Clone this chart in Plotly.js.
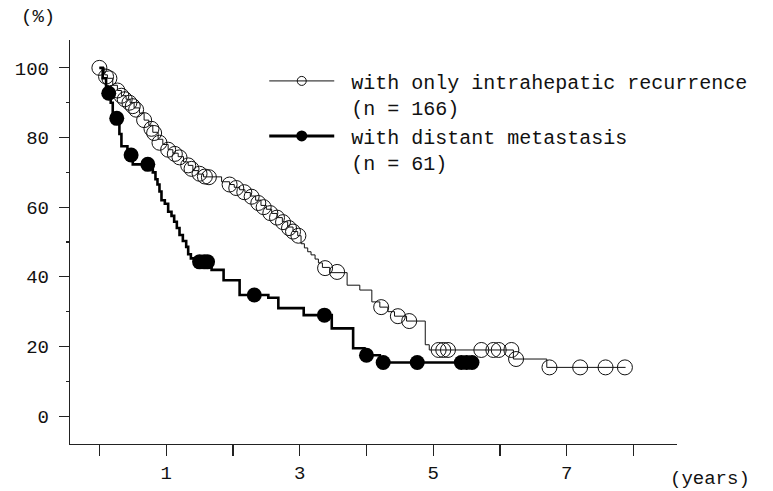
<!DOCTYPE html>
<html>
<head>
<meta charset="utf-8">
<script src="https://cdn.plot.ly/plotly-3.0.1.min.js"></script>
<style>html,body{margin:0;padding:0;background:#fff;}#chart{width:773px;height:491px;}</style>
</head>
<body>
<div id="chart"></div>
<script>
// Kaplan-Meier step curve: with only intrahepatic recurrence (n = 166)
const intraStepYears = [0, 0.08, 0.12, 0.2, 0.27, 0.33, 0.4, 0.46, 0.52, 0.6, 0.67, 0.74, 0.8, 0.88, 0.95, 1.03, 1.1, 1.18, 1.26, 1.33, 1.4, 1.48, 1.56, 1.83, 1.95, 2.02, 2.1, 2.18, 2.26, 2.34, 2.42, 2.5, 2.58, 2.66, 2.74, 2.82, 2.9, 2.97, 3.02, 3.07, 3.12, 3.17, 3.23, 3.28, 3.34, 3.45, 3.71, 3.9, 4.08, 4.2, 4.32, 4.42, 4.6, 4.88, 4.94, 6.2, 6.7, 7.88];
const intraStepSurv  = [100, 98, 97, 95, 93.5, 92, 91, 90, 88.5, 87, 85, 83.5, 81.5, 79.5, 78, 76.5, 75.5, 74.5, 73, 72, 70.5, 69.5, 68.7, 67.3, 66.5, 65.7, 65, 64.2, 63.2, 62, 60.5, 59.4, 58.2, 57, 55.8, 54.3, 53, 51.8, 49.5, 48.3, 47.2, 46.3, 45.1, 44, 42.7, 41.2, 37.6, 36.2, 32.8, 31.3, 30, 28.7, 27.3, 20.5, 19, 16.4, 14, 14];
// censored observations (open circles)
const intraCensYears = [0, 0.1, 0.15, 0.27, 0.33, 0.38, 0.45, 0.5, 0.55, 0.67, 0.78, 0.82, 0.9, 1.03, 1.13, 1.2, 1.33, 1.38, 1.5, 1.58, 1.64, 1.95, 2.05, 2.17, 2.28, 2.38, 2.46, 2.56, 2.66, 2.75, 2.84, 2.9, 2.98, 3.38, 3.56, 4.22, 4.47, 4.64, 5.08, 5.15, 5.22, 5.72, 5.9, 5.98, 6.17, 6.24, 6.74, 7.2, 7.58, 7.87];
const intraCensSurv  = [100, 97.5, 97, 93.5, 92, 91, 90, 89, 88, 85, 82.5, 81.3, 78.5, 76.5, 75.3, 74.3, 72, 71, 69.6, 68.8, 68.6, 66.5, 65.5, 64.3, 63, 61.2, 60, 58.3, 57, 55.7, 54, 53, 51.8, 42.5, 41.4, 31.3, 28.7, 27.3, 19, 19, 19, 19, 19, 19, 19, 16.4, 14, 14, 14, 14];

// Kaplan-Meier step curve: with distant metastasis (n = 61)
const distStepYears = [0, 0.05, 0.1, 0.17, 0.2, 0.3, 0.33, 0.42, 0.5, 0.8, 0.84, 0.87, 0.9, 0.93, 0.98, 1.03, 1.08, 1.12, 1.16, 1.2, 1.25, 1.3, 1.33, 1.37, 1.43, 1.68, 1.86, 2.1, 2.53, 2.68, 3.06, 3.48, 3.8, 3.97, 4.2, 5.6];
const distStepSurv  = [100, 97, 93, 90, 86, 81, 77.5, 76, 72.3, 70, 68, 66.5, 64.5, 62, 61, 58.7, 57.5, 55.8, 54, 52, 50.3, 48.6, 46.5, 45.3, 44.3, 42, 39, 34.8, 34, 31, 29, 25.2, 19.5, 17.5, 15.4, 15.4];
// censored observations (filled circles)
const distCensYears = [0.14, 0.26, 0.475, 0.725, 1.5, 1.57, 1.62, 2.32, 3.37, 4.0, 4.25, 4.76, 5.42, 5.5, 5.58];
const distCensSurv  = [92.7, 85.5, 75, 72.3, 44.3, 44.3, 44.3, 34.8, 29, 17.5, 15.4, 15.4, 15.4, 15.4, 15.4];

const seriesNames = ['\u00A0with only intrahepatic recurrence<br>\u00A0(n = 166)', '\u00A0with distant metastasis<br>\u00A0(n = 61)'];
const xTickVals = [0, 1, 2, 3, 4, 5, 6, 7, 8];
const xTickText = ['', '1', '', '3', '', '5', '', '7', ''];
const yTickVals = [0, 20, 40, 60, 80, 100];

const FONT = 'Liberation Mono, Courier New, monospace';

const traces = [
  {x: intraStepYears, y: intraStepSurv, mode: 'lines', line: {shape: 'hv', color: '#111', width: 1}, showlegend: false, hoverinfo: 'skip'},
  {x: intraCensYears, y: intraCensSurv, mode: 'markers', marker: {symbol: 'circle-open', size: 15, color: '#111', line: {width: 1}}, showlegend: false},
  {x: distStepYears, y: distStepSurv, mode: 'lines', line: {shape: 'hv', color: '#000', width: 2.6}, showlegend: false, hoverinfo: 'skip'},
  {x: distCensYears, y: distCensSurv, mode: 'markers', marker: {symbol: 'circle', size: 15, color: '#000'}, showlegend: false},
  // legend entries
  {x: [null], y: [null], name: seriesNames[0], mode: 'lines+markers', line: {color: '#111', width: 1}, marker: {symbol: 'circle-open', size: 9, color: '#111', line: {width: 1}}},
  {x: [null], y: [null], name: seriesNames[1], mode: 'lines+markers', line: {color: '#000', width: 3}, marker: {symbol: 'circle', size: 11, color: '#000'}}
];

const layout = {
  width: 773, height: 491,
  margin: {l: 70, r: 96, t: 40, b: 47},
  paper_bgcolor: '#fff', plot_bgcolor: '#fff',
  font: {family: FONT, color: '#111', size: 19},
  showlegend: true,
  legend: {x: 0.32, y: 0.947, xanchor: 'left', yanchor: 'top', valign: 'top', itemwidth: 65, bgcolor: 'rgba(0,0,0,0)', font: {family: FONT, size: 20, color: '#111'}, tracegroupgap: 0},
  xaxis: {
    range: [-0.44, 8.65], showgrid: false, zeroline: false, showline: true, linecolor: '#222', linewidth: 1.2,
    tickmode: 'array', tickvals: xTickVals, ticktext: xTickText, ticks: 'outside', ticklen: 11, tickcolor: '#222', tickwidth: 1.2,
    tickfont: {family: FONT, size: 19, color: '#111'}
  },
  yaxis: {
    range: [-8, 108], showgrid: false, zeroline: false, showline: true, linecolor: '#222', linewidth: 1.2,
    tickmode: 'array', tickvals: yTickVals, ticks: 'outside', ticklen: 10, tickcolor: '#222', tickwidth: 1.2,
    minor: {dtick: 10, ticks: 'outside', ticklen: 3, tickcolor: '#222', showgrid: false},
    tickfont: {family: FONT, size: 19, color: '#111'}, ticklabelstandoff: 6
  },
  annotations: [
    {text: '(%)', xref: 'paper', yref: 'paper', x: -0.053, y: 1.0, xanchor: 'center', yanchor: 'bottom', yshift: 10, showarrow: false, font: {family: FONT, size: 19, color: '#111'}},
    {text: '(years)', xref: 'paper', yref: 'paper', x: 1.0, y: 0, xanchor: 'left', yanchor: 'top', xshift: -9, yshift: -22, showarrow: false, font: {family: FONT, size: 19, color: '#111'}}
  ]
};

Plotly.newPlot('chart', traces, layout, {displayModeBar: false, staticPlot: true});
</script>
</body>
</html>
